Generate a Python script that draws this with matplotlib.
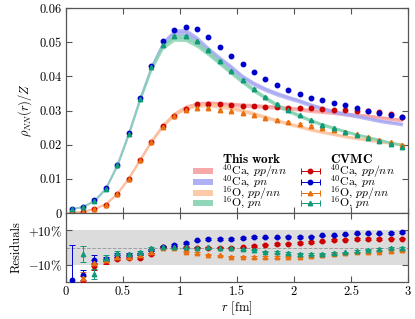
import numpy as np
import matplotlib
matplotlib.use("Agg")
import matplotlib.pyplot as plt
from matplotlib.patches import Rectangle
from matplotlib.lines import Line2D
from matplotlib.ticker import FuncFormatter, MultipleLocator

plt.rcParams['font.family'] = ['cmr10', 'DejaVu Serif']
plt.rcParams['mathtext.fontset'] = 'cm'
plt.rcParams['axes.unicode_minus'] = False
plt.rcParams['font.size'] = 8

# r grid (bin centres, fm)
r = [0.05, 0.15, 0.25, 0.35, 0.45, 0.55, 0.65, 0.75, 0.85, 0.95,
     1.05, 1.15, 1.25, 1.35, 1.45, 1.55, 1.65, 1.75, 1.85, 1.95,
     2.05, 2.15, 2.25, 2.35, 2.45, 2.55, 2.65, 2.75, 2.85, 2.95]

# CVMC points
ca_ppnn = [0.0002, 0.0004, 0.0012, 0.0025, 0.0055, 0.0100, 0.0154, 0.0209, 0.0254, 0.0285,
           0.0305, 0.0318, 0.0319, 0.0319, 0.0317, 0.0314, 0.0313, 0.0311, 0.0309, 0.0308,
           0.0306, 0.0306, 0.0305, 0.0303, 0.0302, 0.0300, 0.0298, 0.0295, 0.0290, 0.0281]
ca_pn = [0.0012, 0.0017, 0.0037, 0.0073, 0.0141, 0.0233, 0.0337, 0.0431, 0.0502, 0.0537,
         0.0545, 0.0538, 0.0515, 0.0486, 0.0459, 0.0435, 0.0414, 0.0392, 0.0375, 0.0361,
         0.0349, 0.0337, 0.0330, 0.0321, 0.0315, 0.0308, 0.0299, 0.0294, 0.0288, 0.0281]
o_ppnn = [0.0002, 0.0004, 0.0012, 0.0025, 0.0055, 0.0100, 0.0154, 0.0208, 0.0253, 0.0283,
          0.0302, 0.0307, 0.0306, 0.0302, 0.0298, 0.0292, 0.0287, 0.0278, 0.0272, 0.0266,
          0.0261, 0.0255, 0.0248, 0.0243, 0.0237, 0.0230, 0.0223, 0.0215, 0.0207, 0.0200]
o_pn = [0.0011, 0.0018, 0.0035, 0.0071, 0.0140, 0.0230, 0.0334, 0.0427, 0.0491, 0.0518,
        0.0519, 0.0502, 0.0478, 0.0446, 0.0417, 0.0389, 0.0363, 0.0341, 0.0320, 0.0303,
        0.0286, 0.0271, 0.0258, 0.0248, 0.0237, 0.0228, 0.0220, 0.0212, 0.0202, 0.0192]
pt_err = 0.0002

# "This work" bands (centre values)
band_ca_ppnn = [0.0002, 0.0004, 0.0012, 0.0026, 0.0056, 0.0101, 0.0155, 0.0210, 0.0256, 0.0290,
                0.0310, 0.0319, 0.0322, 0.0320, 0.0318, 0.0316, 0.0314, 0.0312, 0.0310, 0.0307,
                0.0304, 0.0300, 0.0297, 0.0294, 0.0290, 0.0287, 0.0284, 0.0280, 0.0276, 0.0272]
band_ca_pn = [0.0012, 0.0018, 0.0036, 0.0072, 0.0140, 0.0232, 0.0334, 0.0428, 0.0496, 0.0528,
              0.0530, 0.0508, 0.0478, 0.0451, 0.0426, 0.0398, 0.0378, 0.0362, 0.0349, 0.0338,
              0.0328, 0.0316, 0.0306, 0.0297, 0.0290, 0.0284, 0.0277, 0.0270, 0.0265, 0.0260]
band_o_ppnn = [0.0002, 0.0004, 0.0012, 0.0026, 0.0056, 0.0101, 0.0155, 0.0210, 0.0256, 0.0290,
               0.0308, 0.0316, 0.0317, 0.0313, 0.0308, 0.0300, 0.0291, 0.0281, 0.0271, 0.0262,
               0.0253, 0.0244, 0.0237, 0.0231, 0.0224, 0.0219, 0.0214, 0.0209, 0.0205, 0.0201]
band_o_pn = [0.0011, 0.0018, 0.0035, 0.0070, 0.0138, 0.0229, 0.0332, 0.0424, 0.0488, 0.0513,
             0.0512, 0.0494, 0.0468, 0.0440, 0.0412, 0.0385, 0.0360, 0.0337, 0.0317, 0.0299,
             0.0285, 0.0271, 0.0259, 0.0249, 0.0239, 0.0230, 0.0222, 0.0214, 0.0206, 0.0199]
band_rel = 0.02

# residuals (%)
nan = np.nan
res_ca_ppnn = [nan, -19.5, -11.0, -8.1, -6.5, -6.1, -6.1, -3.8, 0.6, 0.1,
               0.0, 0.0, -0.3, 0.0, 0.0, 0.1, 1.0, 1.6, 2.0, 2.2,
               2.6, 3.2, 3.6, 4.4, 4.6, 5.0, 5.0, 5.0, 5.2, 5.2]
res_ca_pn = [-18.6, -16.0, -7.1, -6.7, -4.2, -4.2, -3.8, -1.3, 0.6, 1.6,
             2.6, 4.1, 4.9, 4.9, 4.9, 5.5, 6.1, 5.9, 5.9, 6.3,
             6.1, 6.3, 7.1, 7.1, 7.6, 8.2, 8.2, 8.2, 8.4, 9.0]
res_o_ppnn = [nan, -17.4, -9.0, -7.5, -5.2, -5.2, -4.6, -2.3, -0.3, -0.3,
              -2.3, -3.2, -4.2, -4.6, -5.2, -5.2, -5.5, -5.5, -5.5, -5.2,
              -5.2, -4.8, -4.6, -3.8, -3.4, -2.8, -2.6, -2.3, -1.9, -1.7]
res_o_pn = [nan, -3.8, -15.5, -6.1, -3.2, -3.8, -2.6, -0.3, 0.6, 0.6,
            0.6, 0.0, 0.1, 0.0, -0.3, -0.9, -1.3, -2.3, -2.6, -3.2,
            -3.6, -3.8, -3.6, -3.2, -2.8, -1.9, -1.3, -0.9, -0.3, -0.3]
res_err_ca_ppnn = [0, 3.0, 2.0, 1.2, 1.0, 0.8, 0.8, 0.6, 0.5, 0.5] + [0.4] * 20
res_err_ca_pn = [20.0, 3.0, 2.5, 1.2, 1.0, 0.8, 0.8, 0.6, 0.5, 0.5] + [0.4] * 20
res_err_o_ppnn = [0, 3.0, 2.0, 1.2, 1.0, 0.8, 0.8, 0.6, 0.5, 0.5] + [0.4] * 20
res_err_o_pn = [0, 4.5, 3.0, 1.5, 1.0, 0.8, 0.8, 0.6, 0.5, 0.5] + [0.4] * 20

labels = [r'$^{40}$Ca, $pp/nn$', r'$^{40}$Ca, $pn$', r'$^{16}$O, $pp/nn$', r'$^{16}$O, $pn$']
band_colors = ['#f7a0a0', '#a8a8f4', '#fdc49c', '#86d2b2']
pt_colors = ['#cc0000', '#0000cc', '#e87010', '#109a78']
markers = ['o', 'o', '^', '^']

fig = plt.figure(figsize=(4.15, 3.19), dpi=100)
ax = fig.add_axes([0.159, 0.332, 0.824, 0.643])
axr = fig.add_axes([0.159, 0.116, 0.824, 0.216], sharex=ax)

bands = [band_ca_ppnn, band_ca_pn, band_o_ppnn, band_o_pn]
points = [ca_ppnn, ca_pn, o_ppnn, o_pn]
resid = [res_ca_ppnn, res_ca_pn, res_o_ppnn, res_o_pn]
res_err = [res_err_ca_ppnn, res_err_ca_pn, res_err_o_ppnn, res_err_o_pn]

for b, c in zip(bands, band_colors):
    b = np.array(b)
    ax.fill_between(r, b * (1 - band_rel), b * (1 + band_rel), color=c, lw=0, alpha=0.8, zorder=1)
    ax.plot(r, b, color=c, lw=1.3, alpha=0.8, zorder=1)

for p, c, m in zip(points, pt_colors, markers):
    ax.errorbar(r, p, yerr=pt_err, fmt=m, color=c, ms=3.2, capsize=1.5, elinewidth=0.6,
                capthick=0.6, zorder=3)

axr.axhspan(-10, 10, color='#dcdcdc', lw=0, zorder=0)
axr.axhline(0, color='#a0a0a0', ls='--', lw=0.7, zorder=1)
for v, e, c, m in zip(resid, res_err, pt_colors, markers):
    axr.errorbar(r, v, yerr=e, fmt=m, color=c, ms=3.2, capsize=2, elinewidth=0.7,
                 capthick=0.7, zorder=3)

# legend, drawn by hand in axes fractions (two titled columns, tight rows)
row_y = [0.205, 0.152, 0.098, 0.048]
title_y = 0.262
col1_txt, col2_txt = 0.456, 0.772
ta = ax.transAxes
ax.text(col1_txt, title_y, r'$\mathbf{This\ work}$', transform=ta, fontsize=9.5, va='center')
ax.text(col2_txt, title_y, r'$\mathbf{CVMC}$', transform=ta, fontsize=9.5, va='center')
for yy, lab, bc, pc, m in zip(row_y, labels, band_colors, pt_colors, markers):
    ax.add_patch(Rectangle((0.372, yy - 0.014), 0.058, 0.028, transform=ta,
                           facecolor=bc, edgecolor='none', alpha=0.9))
    ax.text(col1_txt, yy, lab, transform=ta, fontsize=8.5, va='center')
    ax.add_line(Line2D([0.686, 0.742], [yy, yy], transform=ta, color=pc, lw=0.7,
                       marker='|', markevery=[0, 1], ms=4, mew=0.7))
    ax.add_line(Line2D([0.714], [yy], transform=ta, color=pc, marker=m, ms=3.2, ls='none'))
    ax.text(col2_txt, yy, lab, transform=ta, fontsize=8.5, va='center')

ax.set_xlim(0, 3)
ax.set_ylim(0, 0.06)
ax.yaxis.set_major_locator(MultipleLocator(0.01))
ax.yaxis.set_major_formatter(FuncFormatter(lambda v, p: '0' if abs(v) < 1e-9 else '%.2f' % v))
ax.xaxis.set_major_locator(MultipleLocator(0.5))
ax.tick_params(labelbottom=False)
ax.set_ylabel(r'$\rho_{NN}(r)/Z$', fontsize=9)

axr.set_ylim(-20, 20)
axr.set_yticks([10, -10])
axr.set_yticklabels([r'$+10\%$', r'$-10\%$'])
axr.xaxis.set_major_formatter(FuncFormatter(lambda v, p: '%g' % v))
axr.set_xlabel(r'$r$ [fm]', fontsize=9, labelpad=1)
axr.set_ylabel('Residuals', fontsize=9)

for a in (ax, axr):
    a.tick_params(direction='in', top=True, right=True, length=4, width=0.8, color='#555555',
                  labelsize=9, pad=3)
    for s in a.spines.values():
        s.set_color('#555555')
        s.set_linewidth(0.9)

fig.align_ylabels([ax, axr])
fig.savefig('out.png', dpi=100)
